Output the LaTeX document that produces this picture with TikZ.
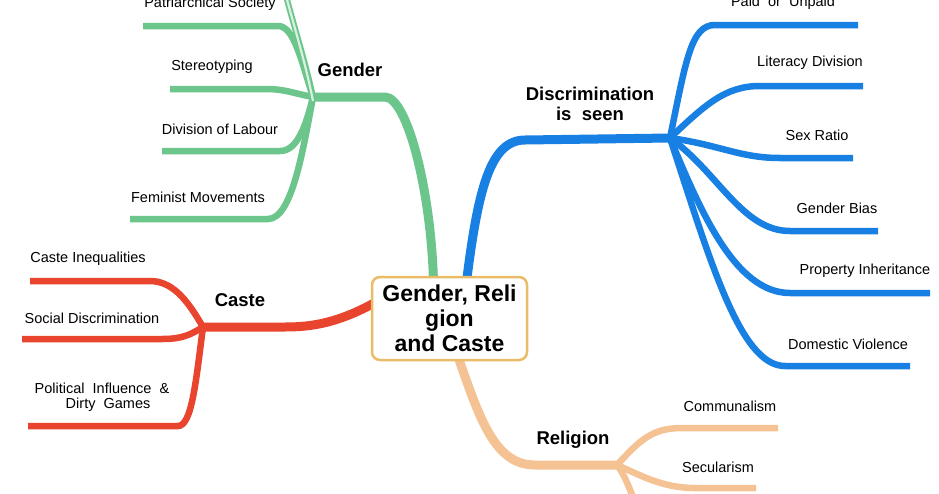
\documentclass[tikz,border=0pt]{standalone}
\usepackage{fontspec}
\setmainfont{Liberation Sans}
\pgfdeclarelayer{bg}
\pgfsetlayers{bg,main}
\definecolor{cgreen}{RGB}{108,198,140}
\definecolor{cblue}{RGB}{24,128,226}
\definecolor{cred}{RGB}{232,68,46}
\definecolor{cpeach}{RGB}{245,194,148}
\definecolor{cborder}{RGB}{234,188,104}
\tikzset{
  leaf/.style={font=\fontsize{14.5}{15.5}\selectfont, inner sep=0pt, align=center},
  topic/.style={font=\fontsize{18.5}{19}\selectfont\bfseries, inner sep=0pt, align=center},
  mainbr/.style={line width=9pt},
  leafbr/.style={line width=6.5pt},
  centerbox/.style={draw=cborder, line width=2.5pt, rounded corners=8pt, fill=white,
    minimum width=155pt, minimum height=83pt, inner sep=0pt, align=center,
    font=\fontsize{23}{25}\selectfont\bfseries}
}
\begin{document}
\begin{tikzpicture}[x=1pt,y=-1pt]
\clip (0,0) rectangle (939,493);

% central node
\node[centerbox] (ctr) at (449.5,318.5) {Gender, Reli\\gion\\and Caste};

% hubs
\coordinate (hubG) at (313,97);
\coordinate (hubD) at (670,138);
\coordinate (hubR) at (617,465);
\coordinate (hubC) at (203,327);

% leaf ends
\coordinate (ePat) at (143,26);
\coordinate (eSte) at (170,89);
\coordinate (eDiv) at (162,151);
\coordinate (eFem) at (130,219);
\coordinate (eTop) at (284,-12);
\coordinate (ePai) at (858,25);
\coordinate (eLit) at (863,86);
\coordinate (eSex) at (853,158);
\coordinate (eBia) at (878,231);
\coordinate (ePro) at (930,293);
\coordinate (eDom) at (910,366);
\coordinate (eCom) at (778,428);
\coordinate (eSec) at (756,488);
\coordinate (eThr) at (636,505);
\coordinate (eCin) at (30,281);
\coordinate (eSoc) at (22,339);
\coordinate (ePol) at (28,426);

% labels
\node[leaf] (lPat) at (210,4) {Patriarchical Society};
\node[leaf] (lSte) at (212,67) {Stereotyping};
\node[leaf] (lDiv) at (220,129) {Division of Labour};
\node[leaf] (lFem) at (198,197) {Feminist Movements};
\node[topic] (tGen) at (350,70) {Gender};
\node[topic, font=\fontsize{18.5}{19.5}\selectfont\bfseries] (tDis) at (590,104) {Discrimination\\is\ \ seen};
\node[leaf] (lPai) at (783,3) {Paid\ \ or\ \ Unpaid};
\node[leaf] (lLit) at (810,63) {Literacy Division};
\node[leaf] (lSex) at (817,135) {Sex Ratio};
\node[leaf] (lBia) at (837,208) {Gender Bias};
\node[leaf] (lPro) at (865,271) {Property Inheritance};
\node[leaf] (lDom) at (848,344) {Domestic Violence};
\node[topic] (tRel) at (573,440) {Religion};
\node[leaf] (lCom) at (730,406) {Communalism};
\node[leaf] (lSec) at (718,467) {Secularism};
\node[topic] (tCas) at (240,300) {Caste};
\node[leaf] (lCin) at (88,259) {Caste Inequalities};
\node[leaf] (lSoc) at (92,318) {Social Discrimination};
\node[leaf, font=\fontsize{14.5}{15.5}\selectfont] (lPol) at (102,397) {Political\ \ Influence\ \ \&\\\ \ \ Dirty\ \ Games};

\begin{pgfonlayer}{bg}
\fill[white] (0,0) rectangle (939,493);
% Gender (green)
\draw[cgreen, mainbr] ([xshift=-16pt,yshift=-6pt]ctr.north) .. controls (431,190) and (407,97) .. (385,97) -- (hubG);
\draw[cgreen, leafbr] (hubG) .. controls (301,60) and (294,26) .. (278,26) -- (ePat);
\draw[cgreen, leafbr] (hubG) .. controls (292,93) and (285,89) .. (265,89) -- (eSte);
\draw[cgreen, leafbr] (hubG) .. controls (305,130) and (296,151) .. (280,151) -- (eDiv);
\draw[cgreen, leafbr] (hubG) .. controls (303,150) and (292,219) .. (268,219) -- (eFem);
\draw[cgreen, line width=6pt] (hubG) .. controls (305,60) and (292,20) .. (eTop);
\draw[white!75!cgreen, line width=2.2pt] ([yshift=-4pt]hubG) .. controls (305,60) and (292,20) .. (eTop);
% Discrimination (blue)
\draw[cblue, mainbr] ([xshift=17pt,yshift=-6pt]ctr.north) .. controls (478,190) and (490,140) .. (525,140) -- (hubD);
\draw[cblue, leafbr] (hubD) .. controls (686,60) and (691,25) .. (715,25) -- (ePai);
\draw[cblue, leafbr] (hubD) .. controls (705,105) and (725,86) .. (760,86) -- (eLit);
\draw[cblue, leafbr] (hubD) .. controls (720,145) and (740,158) .. (780,158) -- (eSex);
\draw[cblue, leafbr] (hubD) .. controls (718,172) and (742,231) .. (790,231) -- (eBia);
\draw[cblue, leafbr] (hubD) .. controls (700,210) and (735,293) .. (790,293) -- (ePro);
\draw[cblue, leafbr] (hubD) .. controls (710,260) and (740,366) .. (785,366) -- (eDom);
% Religion (peach)
\draw[cpeach, mainbr] ([xshift=8pt,yshift=6pt]ctr.south) .. controls (480,420) and (495,465) .. (535,465) -- (hubR);
\draw[cpeach, leafbr] (hubR) .. controls (640,440) and (652,428) .. (682,428) -- (eCom);
\draw[cpeach, leafbr] (hubR) .. controls (640,475) and (662,488) .. (695,488) -- (eSec);
\draw[cpeach, leafbr] (hubR) .. controls (625,475) and (630,490) .. (eThr);
% Caste (red)
\draw[cred, mainbr] ([xshift=6pt,yshift=17pt]ctr.west) .. controls (330,328) and (300,327) .. (277,327) -- (hubC);
\draw[cred, leafbr] (hubC) .. controls (190,305) and (175,281) .. (150,281) -- (eCin);
\draw[cred, leafbr] (hubC) .. controls (190,335) and (182,339) .. (162,339) -- (eSoc);
\draw[cred, leafbr] (hubC) .. controls (196,380) and (192,426) .. (178,426) -- (ePol);
\end{pgfonlayer}
\end{tikzpicture}
\end{document}
